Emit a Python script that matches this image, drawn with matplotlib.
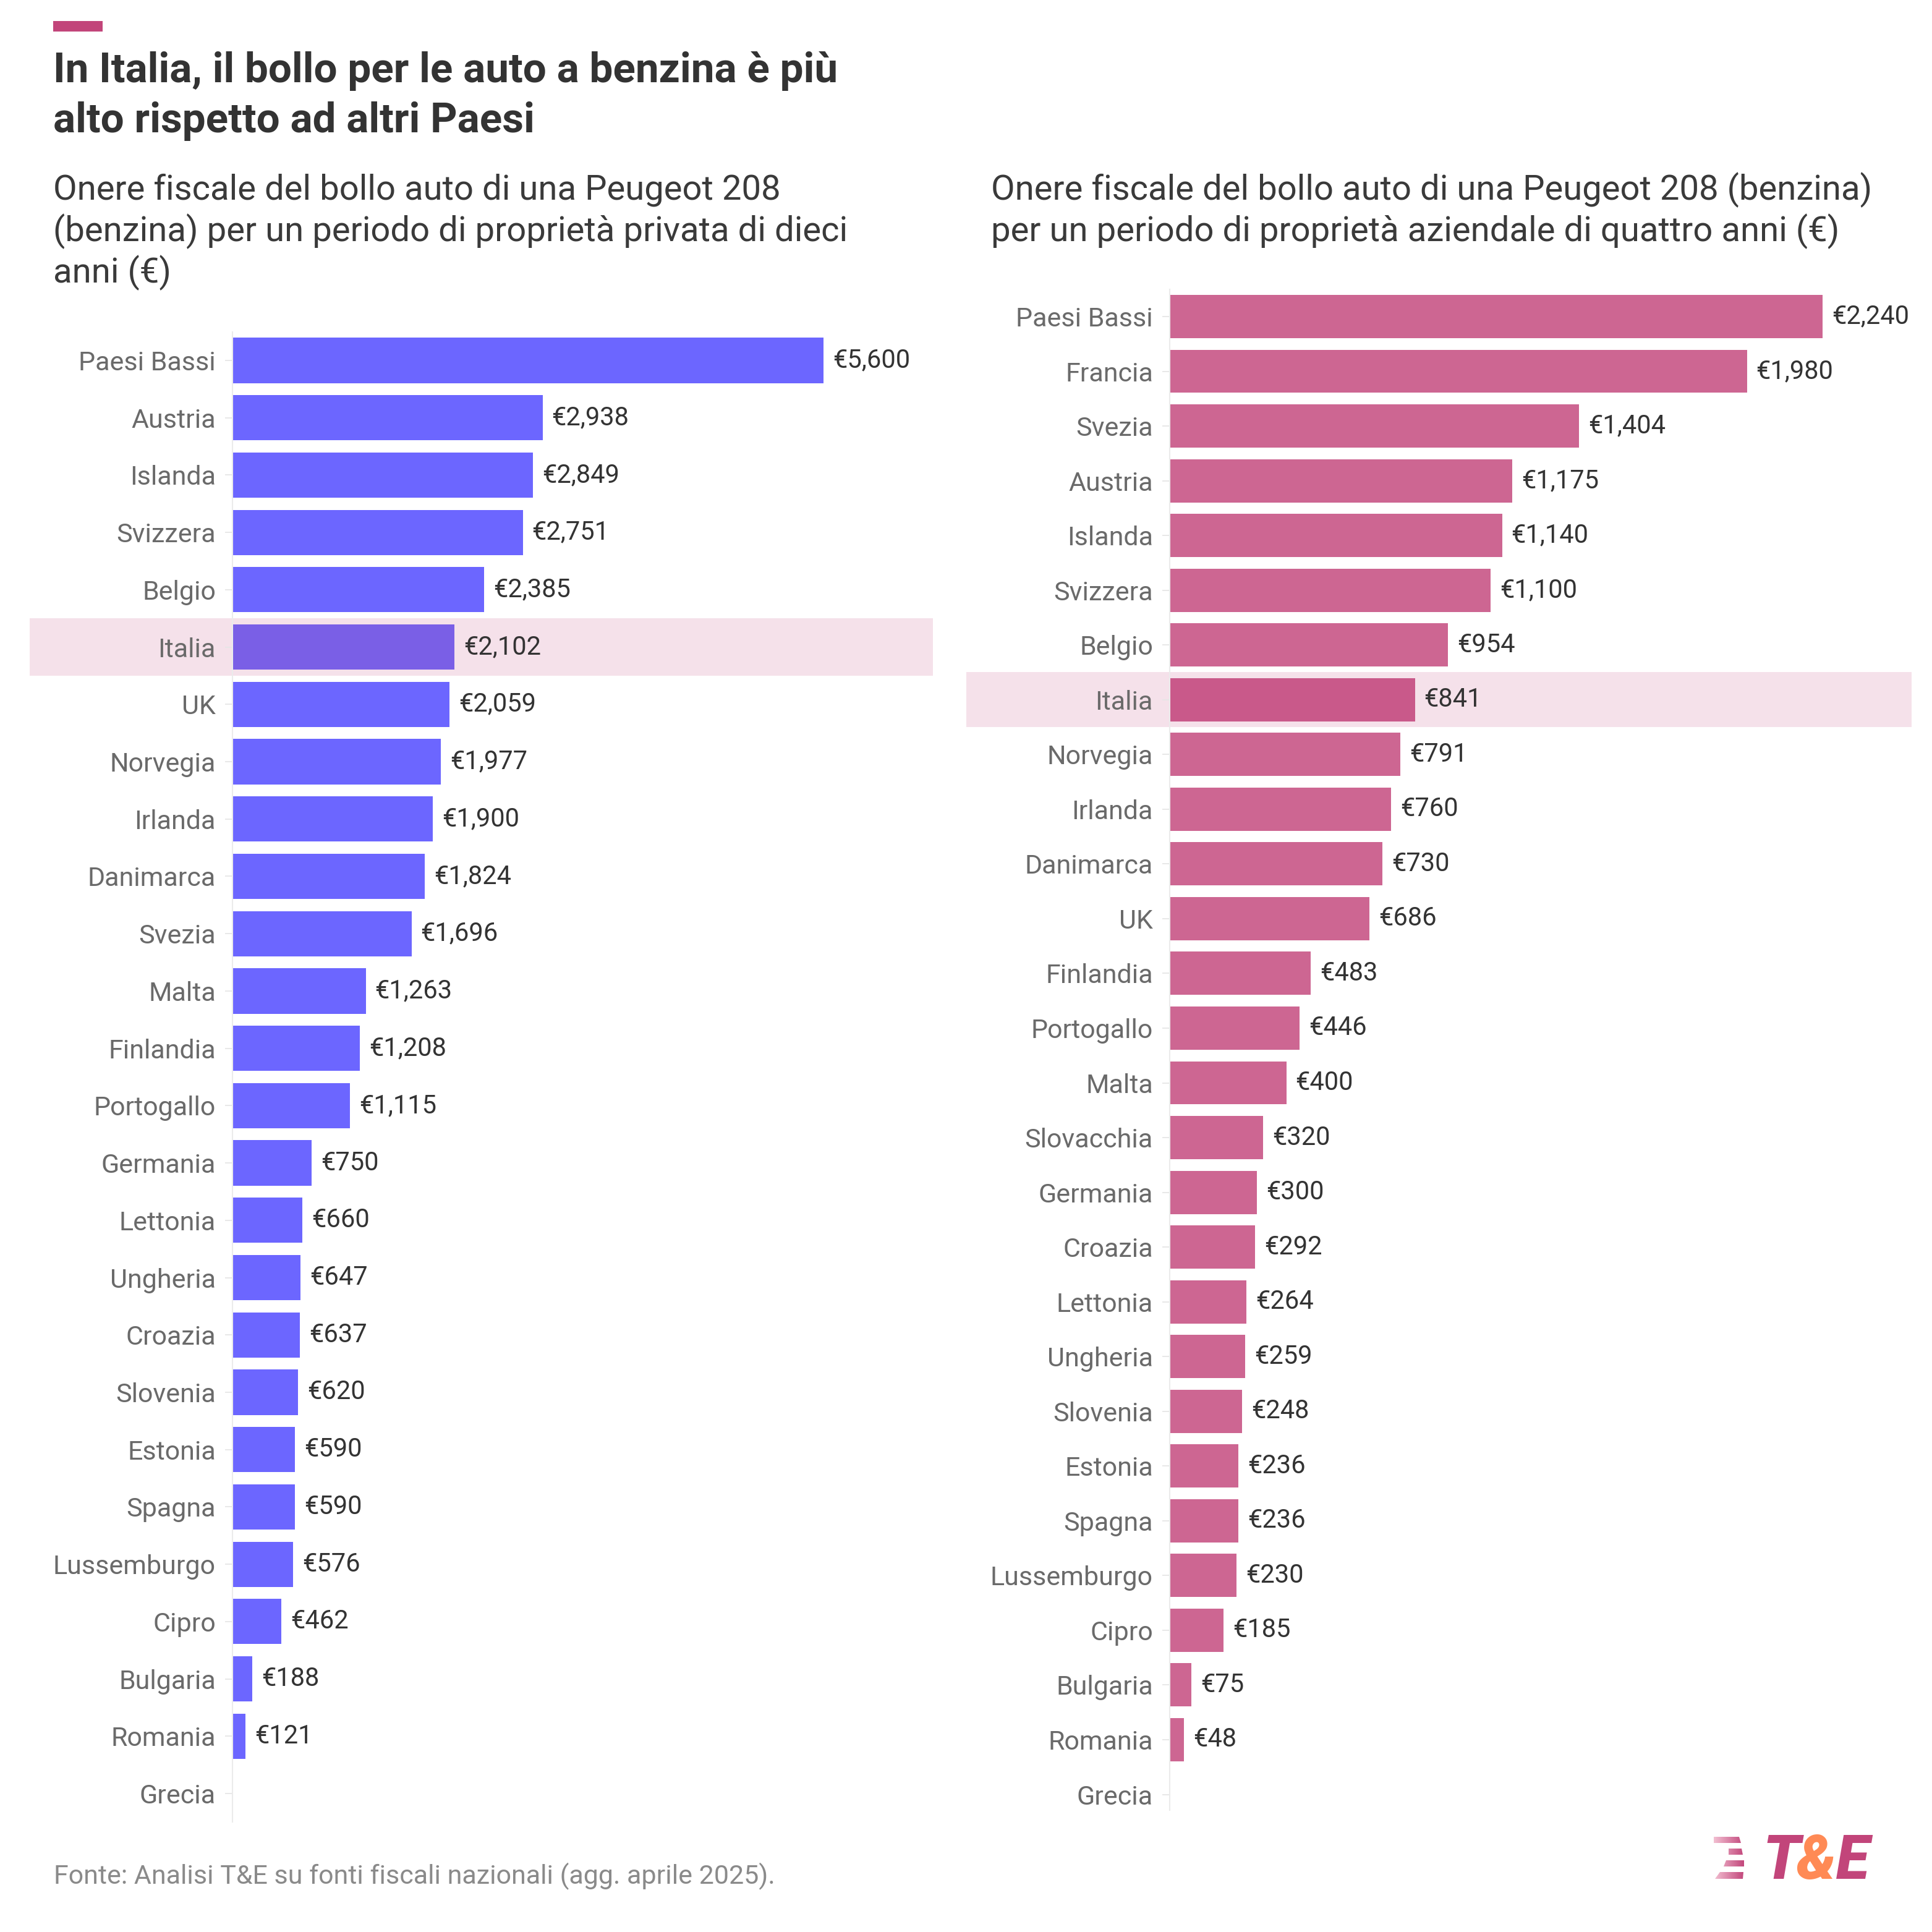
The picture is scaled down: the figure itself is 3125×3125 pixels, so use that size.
import numpy as np
import matplotlib
matplotlib.use('Agg')
import matplotlib.pyplot as plt
from matplotlib.patches import Rectangle, Polygon
from matplotlib.transforms import blended_transform_factory

plt.rcParams['font.family'] = ['Roboto', 'DejaVu Sans']

# ── dati ──────────────────────────────────────────────────────────────────
paesi_privato = ['Paesi Bassi', 'Austria', 'Islanda', 'Svizzera', 'Belgio', 'Italia',
                 'UK', 'Norvegia', 'Irlanda', 'Danimarca', 'Svezia', 'Malta',
                 'Finlandia', 'Portogallo', 'Germania', 'Lettonia', 'Ungheria',
                 'Croazia', 'Slovenia', 'Estonia', 'Spagna', 'Lussemburgo', 'Cipro',
                 'Bulgaria', 'Romania', 'Grecia']
bollo_privato = [5600, 2938, 2849, 2751, 2385, 2102, 2059, 1977, 1900, 1824, 1696, 1263,
                 1208, 1115, 750, 660, 647, 637, 620, 590, 590, 576, 462, 188, 121, np.nan]

paesi_aziendale = ['Paesi Bassi', 'Francia', 'Svezia', 'Austria', 'Islanda', 'Svizzera',
                   'Belgio', 'Italia', 'Norvegia', 'Irlanda', 'Danimarca', 'UK',
                   'Finlandia', 'Portogallo', 'Malta', 'Slovacchia', 'Germania', 'Croazia',
                   'Lettonia', 'Ungheria', 'Slovenia', 'Estonia', 'Spagna', 'Lussemburgo',
                   'Cipro', 'Bulgaria', 'Romania', 'Grecia']
bollo_aziendale = [2240, 1980, 1404, 1175, 1140, 1100, 954, 841, 791, 760, 730, 686,
                   483, 446, 400, 320, 300, 292, 264, 259, 248, 236, 236, 230,
                   185, 75, 48, np.nan]

titolo = ['In Italia, il bollo per le auto a benzina è più',
          'alto rispetto ad altri Paesi']
sottotitolo_sx = ['Onere fiscale del bollo auto di una Peugeot 208',
                  '(benzina) per un periodo di proprietà privata di dieci',
                  'anni (€)']
sottotitolo_dx = ['Onere fiscale del bollo auto di una Peugeot 208 (benzina)',
                  'per un periodo di proprietà aziendale di quattro anni (€)']
fonte = 'Fonte: Analisi T&E su fonti fiscali nazionali (agg. aprile 2025).'

W = H = 3125  # pixel
PINK = '#c2457a'


def fx(px):
    return px / W


def fy(px):
    return 1 - px / H


fig = plt.figure(figsize=(W / 100, H / 100), dpi=100)
fig.patch.set_facecolor('white')


def disegna(ax, paesi, valori, colore, colore_it, band_x0, band_x1, xmax, fondo_asse):
    y = np.arange(len(paesi))
    valori = np.array(valori, dtype=float)
    colori = [colore_it if p == 'Italia' else colore for p in paesi]
    ax.barh(y, np.nan_to_num(valori), height=0.79, color=colori, zorder=2)
    for yi, v in zip(y, valori):
        if np.isnan(v):
            continue
        ax.annotate(f'€{v:,.0f}', (v, yi), xytext=(15, 0), textcoords='offset pixels',
                    ha='left', va='center', fontsize=30, color='#333333', zorder=3)
    # fascia evidenziata per l'Italia
    i_it = paesi.index('Italia')
    tr = blended_transform_factory(fig.transFigure, ax.transData)
    ax.add_patch(Rectangle((fx(band_x0), i_it - 0.5), fx(band_x1 - band_x0), 1.0,
                           transform=tr, facecolor='#f5e1ea', edgecolor='none',
                           zorder=0, clip_on=False))
    ax.set_xlim(0, xmax)
    ax.set_ylim(len(paesi) - 0.5, -0.5)
    ax.set_yticks(y, paesi)
    ax.set_xticks([])
    ax.tick_params(axis='y', length=9, width=1.3, color='#e6e6e6', pad=10.5,
                   labelsize=31, labelcolor='#6a6a6a')
    for s in ['top', 'right', 'bottom']:
        ax.spines[s].set_visible(False)
    ax.spines['left'].set_color('#ebebeb')
    ax.spines['left'].set_linewidth(1.5)
    ax.spines['left'].set_bounds(fondo_asse, -0.5)
    ax.set_facecolor('none')


# pannello sinistro
ax1 = fig.add_axes([fx(376), fy(2947.4), fx(1133), fx(2947.4 - 536.6)])
disegna(ax1, paesi_privato, bollo_privato, '#6c66ff', '#7a5fe6', 48, 1509, 6637,
        len(paesi_privato) - 0.5)

# pannello destro
ax2 = fig.add_axes([fx(1892), fy(2946.8), fx(1200), fx(2946.8 - 467.7)])
disegna(ax2, paesi_aziendale, bollo_aziendale, '#cd6692', '#c9598a', 1563, 3092, 2545,
        len(paesi_aziendale) - 1 + 0.29)

# ── testi ────────────────────────────────────────────────────────────────
fig.patches.append(Rectangle((fx(86), fy(51)), fx(80), fx(17), transform=fig.transFigure,
                             facecolor=PINK, edgecolor='none'))
for riga, base in zip(titolo, [133, 214]):
    fig.text(fx(86), fy(base), riga, fontsize=48.5, fontweight='bold', color='#333333',
             va='baseline', ha='left')
for riga, base in zip(sottotitolo_sx, [323, 390, 457]):
    fig.text(fx(86), fy(base), riga, fontsize=40.5, color='#3a3a3a', va='baseline', ha='left')
for riga, base in zip(sottotitolo_dx, [323, 390]):
    fig.text(fx(1603), fy(base), riga, fontsize=40.5, color='#3a3a3a', va='baseline', ha='left')
fig.text(fx(87), fy(3047), fonte, fontsize=31, color='#8a8a8a', va='baseline', ha='left')

# ── logo T&E ──────────────────────────────────────────────────────────────
ov = fig.add_axes([0, 0, 1, 1], zorder=5)
ov.axis('off')
strisce = [
    [(2772, 2971), (2813, 2971), (2816, 2981), (2772, 2981)],
    [(2796, 2990), (2817, 2990), (2819, 3000), (2796, 3000)],
    [(2792, 3009), (2821, 3009), (2821, 3019), (2788, 3019)],
    [(2782, 3028), (2820, 3028), (2819, 3039), (2774, 3039)],
]
grad = np.linspace(0, 1, 64).reshape(1, -1)
cmap = matplotlib.colors.LinearSegmentedColormap.from_list('logo', ['#f2c0d2', PINK])
for pts in strisce:
    poly = Polygon(pts, closed=True, facecolor='none', edgecolor='none')
    ov.add_patch(poly)
    im = ov.imshow(grad, cmap=cmap, extent=(2772, 2822, 3040, 2970), aspect='auto',
                   interpolation='bilinear')
    im.set_clip_path(poly)
ov.set_xlim(0, W)
ov.set_ylim(H, 0)

logo_kw = dict(fontsize=71, fontweight='black', fontstyle='italic', va='baseline', ha='left')
renderer = fig.canvas.get_renderer()
x_logo = 2851
for lettera, col, gap in [('T', PINK, -6), ('&', '#ff8a55', 0), ('E', PINK, 0)]:
    t = ov.text(x_logo, 3039, lettera, color=col, **logo_kw)
    bb = t.get_window_extent(renderer)
    x_logo = bb.x1 + gap

fig.savefig('out.png', dpi=100, facecolor='white')
